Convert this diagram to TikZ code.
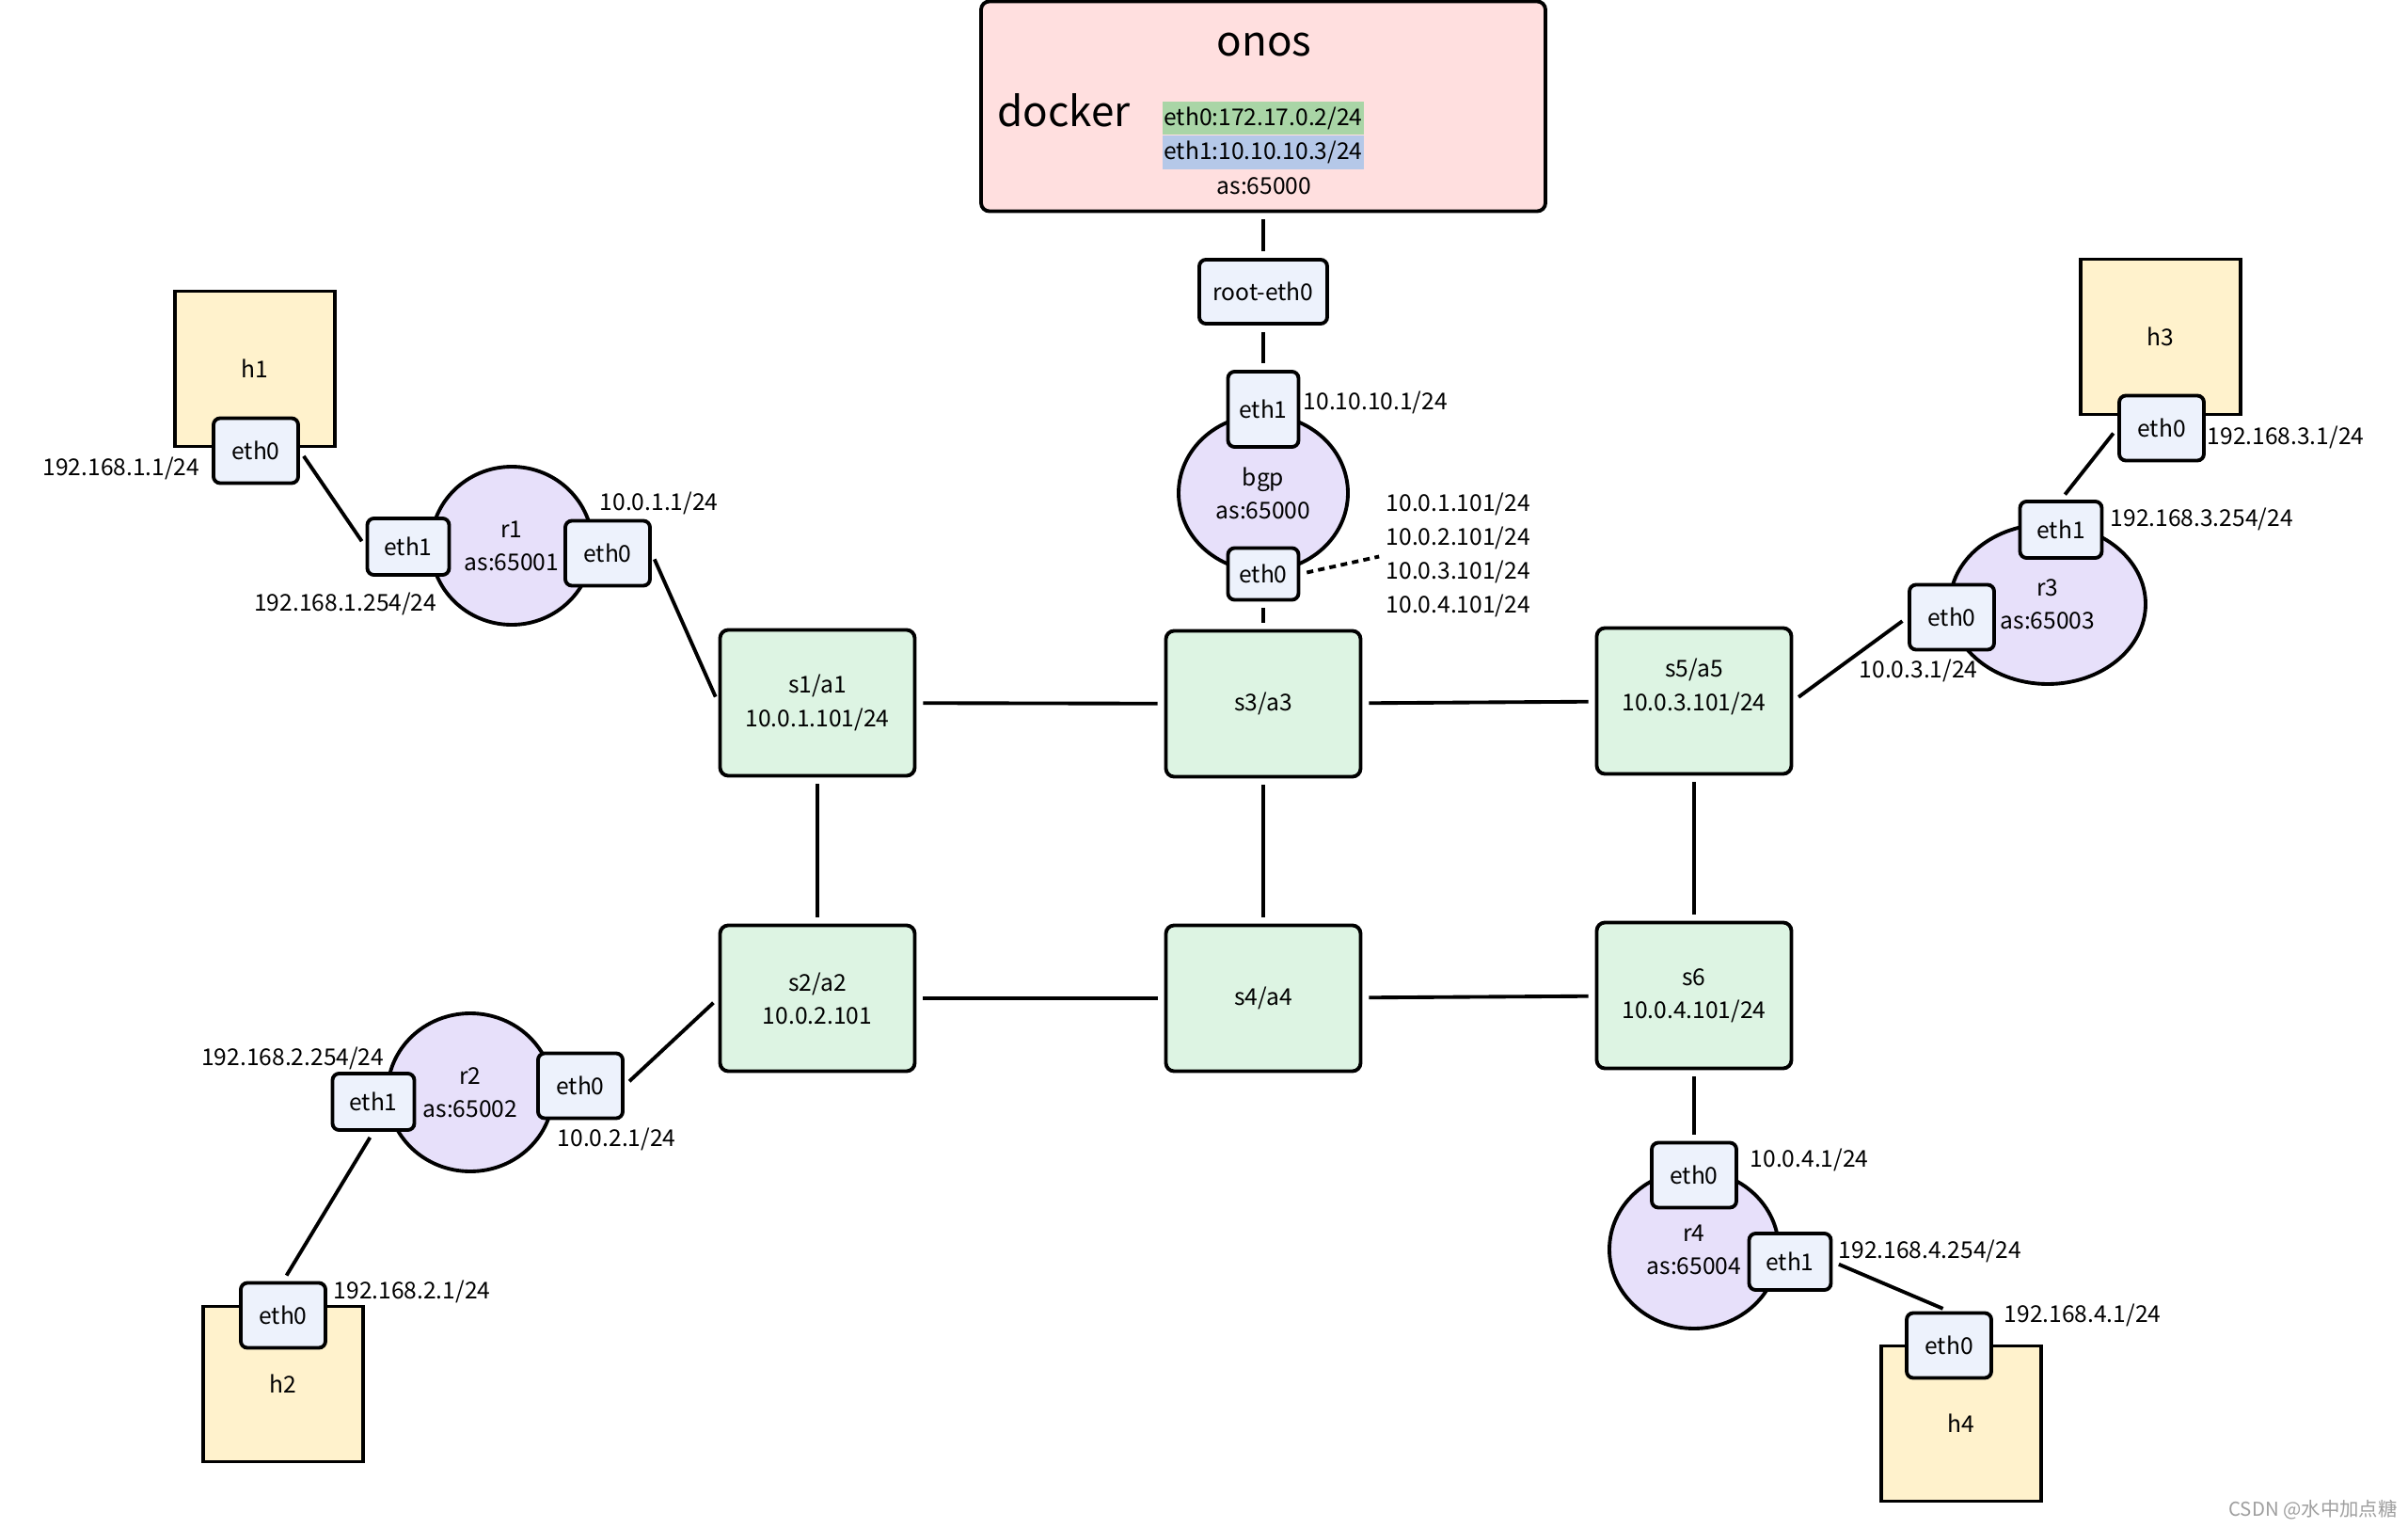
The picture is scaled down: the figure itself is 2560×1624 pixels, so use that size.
\documentclass[tikz,border=0pt]{standalone}
\usepackage{fontspec}
\setmainfont{Noto Sans CJK SC}
\usetikzlibrary{shapes.geometric}
\definecolor{onosfill}{HTML}{FFDFDF}
\definecolor{swfill}{HTML}{DDF4E3}
\definecolor{rtfill}{HTML}{E7E0FA}
\definecolor{portfill}{HTML}{EDF2FC}
\definecolor{hostfill}{HTML}{FFF2CC}
\definecolor{hlgreen}{HTML}{A9D5A6}
\definecolor{hlblue}{HTML}{B5C8E8}
\newcommand{\smallfont}{\fontsize{7}{10}\selectfont}
\newcommand{\bigfont}{\fontsize{12.5}{15}\selectfont}
\tikzset{
  box/.style={draw, line width=1.1pt, inner sep=0pt, align=center, font=\smallfont},
  sw/.style={box, rounded corners=2.5pt, fill=swfill, minimum width=20.7mm, minimum height=15.5mm},
  rt/.style={box, ellipse, fill=rtfill},
  host/.style={box, fill=hostfill, minimum width=17mm, minimum height=16.5mm},
  port/.style={box, rounded corners=2pt, fill=portfill, minimum width=9mm, minimum height=6.9mm},
  lowport/.style={port, minimum width=8.7mm, minimum height=6mm},
  ip/.style={inner sep=0pt, align=center, font=\smallfont},
  link/.style={line width=1.1pt, shorten >=0.7mm, shorten <=0.7mm},
}
\begin{document}
\begin{tikzpicture}[x=0.1mm, y=-0.1mm]
    \path[use as bounding box, fill=white] (0,0) rectangle (2560,1624);
    % onos
    \node[box, rounded corners=2.5pt, fill=onosfill, minimum width=60mm, minimum height=22.3mm] (onos) at (1343,113) {};
    \node[ip, font=\bigfont] (onostxt) at (1344,48) {onos};
    \node[ip, font=\bigfont] (docker) at (1131,117) {docker};
    \node[ip, fill=hlgreen, minimum width=21.4mm, minimum height=3.5mm] (hl0) at (1343,126) {eth0:172.17.0.2/24};
    \node[ip, fill=hlblue, minimum width=21.4mm, minimum height=3.6mm] (hl1) at (1343,162) {eth1:10.10.10.3/24};
    \node[ip] (onosas) at (1344,198) {as:65000};
    \node[port, minimum width=13.6mm, minimum height=6.8mm] (root) at (1343,310) {root-eth0};
    % bgp
    \node[rt, minimum width=18mm, minimum height=16.6mm] (bgp) at (1343,524) {bgp\\as:65000};
    \node[port, minimum width=7.5mm, minimum height=8mm] (bgp1) at (1343,435) {eth1};
    \node[port, minimum width=7.5mm, minimum height=5.5mm] (bgp0) at (1343,610) {eth0};
    \node[ip, anchor=west] (bgp1ip) at (1385,428) {10.10.10.1/24};
    \node[ip, anchor=west, align=left, font=\fontsize{7}{10.2}\selectfont] (bgp0ip) at (1473,590) {10.0.1.101/24\\10.0.2.101/24\\10.0.3.101/24\\10.0.4.101/24};
    % switches
    \node[sw] (s1) at (869,747) {s1/a1\\10.0.1.101/24};
    \node[sw] (s3) at (1343,748) {s3/a3};
    \node[sw] (s5) at (1801,745) {};
    \node[ip] (s5txt) at (1801,730) {s5/a5\\10.0.3.101/24};
    \node[sw] (s2) at (869,1061) {s2/a2\\10.0.2.101};
    \node[sw] (s4) at (1343,1061) {s4/a4};
    \node[sw] (s6) at (1801,1058) {s6\\10.0.4.101/24};
    % r1, h1
    \node[rt, minimum width=17.2mm, minimum height=16.8mm] (r1) at (544,580) {r1\\as:65001};
    \node[lowport] (r1e1) at (434,581) {eth1};
    \node[port] (r1e0) at (646,588) {eth0};
    \node[host] (h1) at (271,392) {h1};
    \node[port] (h1e0) at (272,479) {eth0};
    \node[ip, anchor=east] (h1ip) at (213,498) {192.168.1.1/24};
    \node[ip, anchor=east] (r1e1ip) at (465,642) {192.168.1.254/24};
    \node[ip, anchor=west] (r1e0ip) at (637,535) {10.0.1.1/24};
    % r2, h2
    \node[rt, minimum width=17.6mm, minimum height=16.8mm] (r2) at (500,1161) {r2\\as:65002};
    \node[lowport] (r2e1) at (397,1171) {eth1};
    \node[port] (r2e0) at (617,1154) {eth0};
    \node[host] (h2) at (301,1471) {h2};
    \node[port] (h2e0) at (301,1398) {eth0};
    \node[ip, anchor=east] (r2e1ip) at (409,1125) {192.168.2.254/24};
    \node[ip, anchor=west] (r2e0ip) at (592,1211) {10.0.2.1/24};
    \node[ip, anchor=west] (h2ip) at (354,1373) {192.168.2.1/24};
    % r3, h3
    \node[rt, minimum width=20.8mm, minimum height=17mm] (r3) at (2177,642) {r3\\as:65003};
    \node[lowport] (r3e1) at (2191,563) {eth1};
    \node[port] (r3e0) at (2075,656) {eth0};
    \node[host] (h3) at (2297,358) {h3};
    \node[port] (h3e0) at (2298,455) {eth0};
    \node[ip, anchor=west] (h3ip) at (2346,465) {192.168.3.1/24};
    \node[ip, anchor=west] (r3e1ip) at (2243,552) {192.168.3.254/24};
    \node[ip, anchor=west] (r3e0ip) at (1976,713) {10.0.3.1/24};
    % r4, h4
    \node[rt, minimum width=18mm, minimum height=16.8mm] (r4) at (1801,1328) {r4\\as:65004};
    \node[port] (r4e0) at (1801,1249) {eth0};
    \node[lowport] (r4e1) at (1903,1341) {eth1};
    \node[host] (h4) at (2085,1513) {h4};
    \node[port] (h4e0) at (2072,1430) {eth0};
    \node[ip, anchor=west] (r4e0ip) at (1860,1233) {10.0.4.1/24};
    \node[ip, anchor=west] (r4e1ip) at (1954,1330) {192.168.4.254/24};
    \node[ip, anchor=west] (h4ip) at (2130,1398) {192.168.4.1/24};
    % Linee
    \draw[link] (onos) -- (root);
    \draw[link] (root) -- (bgp1);
    \draw[link] (bgp0) -- (s3);
    \draw[link, dash pattern=on 2pt off 1.5pt] (bgp0.east) -- (bgp0ip.west); % verso gli switch
    \draw[link] (s1) -- (s3);
    \draw[link] (s3) -- (s5);
    \draw[link] (s2) -- (s4);
    \draw[link] (s4) -- (s6);
    \draw[link] (s1) -- (s2);
    \draw[link] (s3) -- (s4);
    \draw[link] (s5) -- (s6);
    \draw[link] (h1e0.east) -- (r1e1.west);
    \draw[link] (r1e0.east) -- (s1.west);
    \draw[link] (r2e0.east) -- (s2.west);
    \draw[link] (r2e1.south) -- (h2e0.north);
    \draw[link] (s5.east) -- (r3e0.west);
    \draw[link] (h3e0.west) -- (r3e1.north);
    \draw[link] (s6) -- (r4e0);
    \draw[link] (r4e1.east) -- (h4e0.north);
    % watermark
    \node[ip, text=gray!75, font=\fontsize{5.8}{7}\selectfont] (mark) at (2459,1605) {CSDN @水中加点糖};
\end{tikzpicture}
\end{document}
